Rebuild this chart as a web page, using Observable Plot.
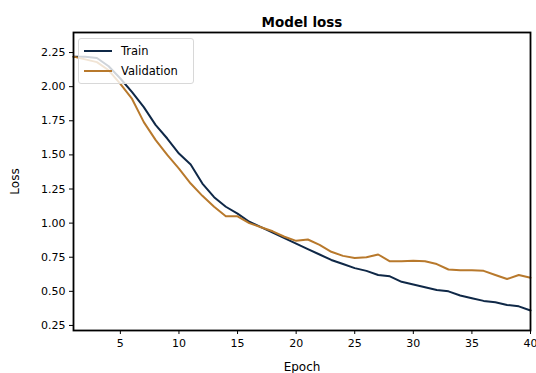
<!DOCTYPE html>
<html>
<head>
<meta charset="utf-8">
<script src="https://cdn.jsdelivr.net/npm/d3@7"></script>
<script src="https://cdn.jsdelivr.net/npm/@observablehq/plot@0.6"></script>
<style>
  html, body { margin: 0; padding: 0; background: #fff; }
  #wrap { position: relative; width: 536px; height: 373px; font-family: "DejaVu Sans", sans-serif; }
  #legend { position: absolute; left: 78px; top: 38px; width: 116px; height: 46px;
    border: 1px solid #d8d8d8; border-radius: 3px; background: rgba(255,255,255,0.8);
    font-size: 11.5px; color: #000; box-sizing: border-box; }
  .item { position: absolute; left: 5px; height: 14px; display: flex; align-items: center; }
  .swatch { width: 28px; height: 0; border-top: 2px solid; margin-right: 9px; }
</style>
</head>
<body>
<div id="wrap"></div>
<script>
const epochs = d3.range(1, 41);
const trainLoss = [2.22, 2.22, 2.21, 2.15, 2.06, 1.96, 1.85, 1.72, 1.62, 1.51,
                   1.43, 1.29, 1.19, 1.12, 1.07, 1.01, 0.97, 0.93, 0.89, 0.85,
                   0.81, 0.77, 0.73, 0.70, 0.67, 0.65, 0.62, 0.61, 0.57, 0.55,
                   0.53, 0.51, 0.50, 0.47, 0.45, 0.43, 0.42, 0.40, 0.39, 0.36];
const valLoss   = [2.22, 2.20, 2.18, 2.12, 2.02, 1.91, 1.74, 1.61, 1.50, 1.40,
                   1.29, 1.20, 1.12, 1.05, 1.05, 1.00, 0.97, 0.94, 0.90, 0.87,
                   0.88, 0.84, 0.79, 0.76, 0.745, 0.75, 0.77, 0.72, 0.72, 0.725,
                   0.72, 0.70, 0.66, 0.655, 0.655, 0.65, 0.62, 0.59, 0.62, 0.60];
const seriesNames = ["Train", "Validation"];
const seriesColors = ["#0f2847", "#b8792c"];
const xTicks = [5, 10, 15, 20, 25, 30, 35, 40];
const yTicks = [0.25, 0.50, 0.75, 1.00, 1.25, 1.50, 1.75, 2.00, 2.25];
const titleText = "Model loss";

const rows = [];
epochs.forEach((e, i) => {
  rows.push({epoch: e, loss: trainLoss[i], series: seriesNames[0]});
  rows.push({epoch: e, loss: valLoss[i], series: seriesNames[1]});
});

const chart = Plot.plot({
  width: 536,
  height: 373,
  marginLeft: 73,
  marginRight: 6,
  marginTop: 32,
  marginBottom: 43,
  style: {fontFamily: "DejaVu Sans, sans-serif", fontSize: "11px", color: "#000", background: "#fff"},
  x: {domain: [1, 40], ticks: xTicks, tickFormat: d => String(d), label: "Epoch",
      labelAnchor: "center", labelArrow: "none", labelOffset: 40, tickSize: 4, tickPadding: 5},
  y: {domain: [0.213, 2.397], ticks: yTicks, tickFormat: d => d.toFixed(2), label: "Loss",
      labelAnchor: "center", labelArrow: "none", labelOffset: 63, tickSize: 4, tickPadding: 4},
  color: {domain: seriesNames, range: seriesColors},
  marks: [
    Plot.line(rows, {x: "epoch", y: "loss", z: "series", stroke: "series", strokeWidth: 2}),
    Plot.frame({stroke: "#000", strokeWidth: 1.8}),
    Plot.text([titleText], {frameAnchor: "top", dy: -15, text: d => d, fontSize: 13.5, fontWeight: "bold", fill: "#000"})
  ]
});
chart.querySelectorAll('[aria-label="x-axis label"] text, [aria-label="y-axis label"] text').forEach(t => t.setAttribute("font-size", "12"));
const wrap = document.getElementById("wrap");
wrap.appendChild(chart);

const legend = document.createElement("div");
legend.id = "legend";
seriesNames.forEach((name, i) => {
  const item = document.createElement("div");
  item.className = "item";
  item.style.top = (5 + i * 20) + "px";
  const sw = document.createElement("span");
  sw.className = "swatch";
  sw.style.borderColor = seriesColors[i];
  const lab = document.createElement("span");
  lab.textContent = name;
  item.appendChild(sw);
  item.appendChild(lab);
  legend.appendChild(item);
});
wrap.appendChild(legend);
</script>
</body>
</html>
